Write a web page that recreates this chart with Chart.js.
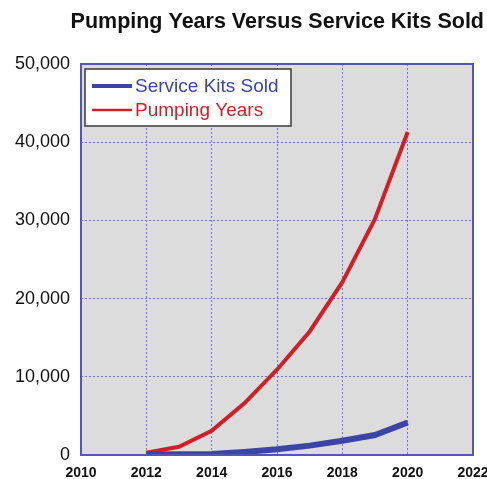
<!DOCTYPE html>
<html>
<head>
<meta charset="utf-8">
<title>Pumping Years Versus Service Kits Sold</title>
<script src="https://cdn.jsdelivr.net/npm/chart.js@4/dist/chart.umd.min.js"></script>
<style>
    html, body { margin: 0; padding: 0; background: #fff; }
    #wrap { width: 487px; height: 479px; position: relative; }
</style>
</head>
<body>
<div id="wrap"><canvas id="chart"></canvas></div>
<script>
// Datos
const years = [2012, 2013, 2014, 2015, 2016, 2017, 2018, 2019, 2020];
const serviceKitsSold = [50, 80, 120, 380, 730, 1200, 1830, 2550, 4150];
const pumpingYears = [300, 1050, 3100, 6600, 10900, 15800, 22100, 30200, 41300];
const xTicks = [2010, 2012, 2014, 2016, 2018, 2020, 2022];
const yTicks = [0, 10000, 20000, 30000, 40000, 50000];

const gridColor = '#6f74c6';
const frameColor = '#5157b3';

// Fondo gris del área de trazado y marco azul
const plotArea = {
    id: 'plotArea',
    beforeDraw(chart) {
        const { ctx, chartArea: a } = chart;
        ctx.save();
        ctx.fillStyle = '#dcdcdc';
        ctx.fillRect(a.left, a.top, a.right - a.left, a.bottom - a.top);
        ctx.restore();
    },
    afterDatasetsDraw(chart) {
        const { ctx, chartArea: a } = chart;
        ctx.save();
        ctx.strokeStyle = frameColor;
        ctx.lineWidth = 2;
        ctx.strokeRect(a.left, a.top, a.right - a.left, a.bottom - a.top);
        ctx.restore();
    }
};

// Leyenda dentro del área de trazado
const boxLegend = {
    id: 'boxLegend',
    afterDraw(chart) {
        const { ctx, chartArea: a } = chart;
        const x = a.left + 4, y = a.top + 5;
        ctx.save();
        ctx.fillStyle = '#ffffff';
        ctx.fillRect(x, y, 206, 57);
        ctx.strokeStyle = '#3a3a3a';
        ctx.lineWidth = 1.5;
        ctx.strokeRect(x, y, 206, 57);
        ctx.font = '19px "Liberation Sans", Arial, sans-serif';
        ctx.textBaseline = 'middle';
        chart.data.datasets.forEach((ds, i) => {
            const cy = y + 17 + i * 24;
            ctx.strokeStyle = ds.borderColor;
            ctx.lineWidth = i === 0 ? 4 : 2.5;
            ctx.beginPath();
            ctx.moveTo(x + 7, cy);
            ctx.lineTo(x + 47, cy);
            ctx.stroke();
            ctx.fillStyle = ds.borderColor;
            ctx.fillText(ds.label, x + 50, cy + 1);
        });
        ctx.restore();
    }
};

const toPoints = (vals) => vals.map((v, i) => ({ x: years[i], y: v }));

new Chart(document.getElementById('chart'), {
    type: 'line',
    data: {
        datasets: [{
            label: 'Service Kits Sold',
            data: toPoints(serviceKitsSold),
            borderColor: '#3a45a6',
            borderWidth: 6,
            pointRadius: 0,
            tension: 0
        }, {
            label: 'Pumping Years',
            data: toPoints(pumpingYears),
            borderColor: '#cf1f28',
            borderWidth: 4,
            pointRadius: 0,
            tension: 0
        }]
    },
    options: {
        responsive: true,
        maintainAspectRatio: false,
        animation: false,
        layout: { padding: { left: 0, right: 3, top: 0, bottom: 0 } },
        scales: {
            x: {
                type: 'linear',
                min: xTicks[0],
                max: xTicks[xTicks.length - 1],
                afterBuildTicks: (scale) => { scale.ticks = xTicks.map(v => ({ value: v })); },
                afterFit: (scale) => {
                    scale.height = 24;
                    scale.paddingLeft = 0;
                    scale.paddingRight = 14;
                },
                ticks: {
                    padding: 10,
                    color: '#111',
                    font: { family: '"Liberation Sans", Arial, sans-serif', size: 14, weight: 'bold' },
                    maxRotation: 0,
                    callback: (v) => String(v)
                },
                grid: {
                    color: gridColor,
                    lineWidth: 1,
                    drawTicks: false
                },
                border: { display: false, dash: [2, 2] }
            },
            y: {
                min: yTicks[0],
                max: yTicks[yTicks.length - 1],
                afterBuildTicks: (scale) => { scale.ticks = yTicks.map(v => ({ value: v })); },
                afterFit: (scale) => { scale.width = 81; },
                ticks: {
                    padding: 11,
                    color: '#111',
                    font: { family: '"Liberation Sans", Arial, sans-serif', size: 18 },
                    callback: (v) => v.toLocaleString('en-US')
                },
                grid: {
                    color: gridColor,
                    lineWidth: 1,
                    drawTicks: false
                },
                border: { display: false, dash: [2, 2] }
            }
        },
        plugins: {
            legend: { display: false },
            tooltip: { enabled: false },
            title: {
                display: true,
                text: 'Pumping Years Versus Service Kits Sold',
                align: 'end',
                color: '#111',
                font: { family: '"Liberation Sans", Arial, sans-serif', size: 21.5, weight: 'bold' },
                padding: { top: 9, bottom: 29.2 }
            }
        }
    },
    plugins: [plotArea, boxLegend]
});
</script>
</body>
</html>
